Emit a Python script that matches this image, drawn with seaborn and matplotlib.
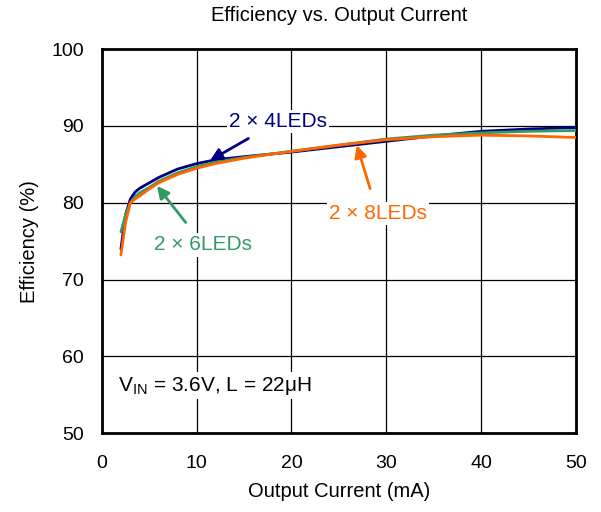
import matplotlib
matplotlib.use("Agg")
import matplotlib.pyplot as plt
import seaborn as sns
import pandas as pd

current_ma = [2, 2.5, 3, 3.5, 4, 5, 6, 8, 10, 12, 15, 20, 25, 30, 35, 40, 45, 50]
eff_4leds = [74.0, 78.5, 80.5, 81.4, 81.9, 82.6, 83.3, 84.4, 85.1, 85.6, 86.0, 86.6, 87.3, 88.0, 88.7, 89.3, 89.6, 89.8]
eff_6leds = [76.2, 78.5, 80.0, 80.8, 81.3, 82.0, 82.8, 83.9, 84.7, 85.3, 85.9, 86.7, 87.5, 88.3, 88.8, 89.1, 89.3, 89.4]
eff_8leds = [73.2, 77.5, 80.0, 80.5, 80.9, 81.8, 82.6, 83.7, 84.5, 85.1, 85.8, 86.7, 87.5, 88.2, 88.6, 88.8, 88.7, 88.5]
series_names = ["2 × 4LEDs", "2 × 6LEDs", "2 × 8LEDs"]
series_colors = ["#000080", "#339966", "#FF6600"]
x_ticks = [0, 10, 20, 30, 40, 50]
y_ticks = [50, 60, 70, 80, 90, 100]

df = pd.concat([
    pd.DataFrame({"I": current_ma, "Eff": v, "Series": n})
    for n, v in zip(series_names, [eff_4leds, eff_6leds, eff_8leds])
])

sns.set_style("white")
plt.rcParams['font.family'] = ['Liberation Sans', 'DejaVu Sans']
plt.rcParams['text.color'] = 'black'
plt.rcParams['axes.labelcolor'] = 'black'
plt.rcParams['xtick.color'] = 'black'
plt.rcParams['ytick.color'] = 'black'

fig = plt.figure(figsize=(6.01, 5.12), dpi=100)
ax = fig.add_axes([0.1697, 0.154, 0.7883, 0.750])

sns.lineplot(data=df, x="I", y="Eff", hue="Series", palette=dict(zip(series_names, series_colors)),
             linewidth=2.0, ax=ax, legend=False, zorder=3)

ax.set_xlim(0, 50)
ax.set_ylim(50, 100)
ax.set_xticks(x_ticks)
ax.set_yticks(y_ticks)
ax.tick_params(length=0, labelsize=14)
ax.tick_params(axis="x", pad=16)
ax.tick_params(axis="y", pad=13)
ax.grid(True, color="black", linewidth=0.9)
for s in ax.spines.values():
    s.set_color("black")
    s.set_linewidth(2)

ax.set_xlabel("Output Current (mA)", fontsize=14.5, labelpad=7)
ax.set_ylabel("Efficiency (%)", fontsize=14.5, labelpad=9)
ax.set_title("Efficiency vs. Output Current", fontsize=14.5, pad=20)

box = dict(facecolor="white", edgecolor="none", pad=1.5)
ax.annotate("2 × 4LEDs", xy=(11.4, 85.5), xytext=(18.6, 90.6), color=series_colors[0], fontsize=15,
            ha="center", va="center", bbox=box, zorder=5,
            arrowprops=dict(arrowstyle="-|>", color=series_colors[0], lw=2, mutation_scale=18, shrinkA=8, shrinkB=0))
ax.annotate("2 × 6LEDs", xy=(5.8, 82.2), xytext=(10.7, 74.5), color=series_colors[1], fontsize=15,
            ha="center", va="center", bbox=box, zorder=5,
            arrowprops=dict(arrowstyle="-|>", color=series_colors[1], lw=2, mutation_scale=18, shrinkA=10, shrinkB=0))
ax.annotate("2 × 8LEDs", xy=(26.9, 87.5), xytext=(29.1, 78.6), color=series_colors[2], fontsize=15,
            ha="center", va="center", bbox=box, zorder=5,
            arrowprops=dict(arrowstyle="-|>", color=series_colors[2], lw=2, mutation_scale=18, shrinkA=10, shrinkB=0))
ax.text(1.7, 56.2, r"V$_{\mathregular{IN}}$ = 3.6V, L = 22μH", fontsize=15, ha="left", va="center",
        bbox=box, zorder=5)

fig.savefig("out.png", dpi=100)
